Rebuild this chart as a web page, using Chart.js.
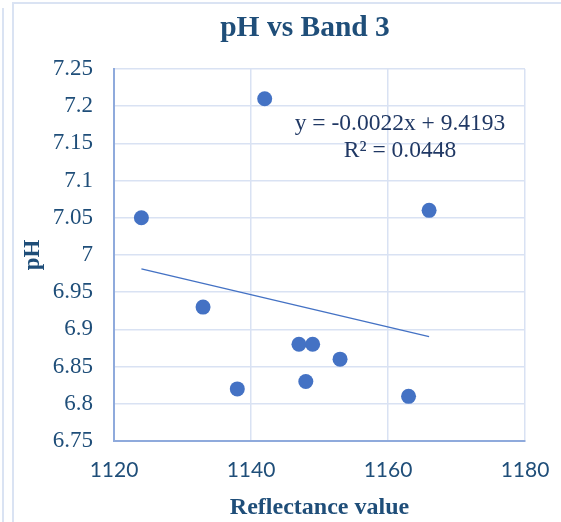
<!DOCTYPE html>
<html><head><meta charset="utf-8">
<script src="https://cdn.jsdelivr.net/npm/chart.js@4/dist/chart.umd.min.js"></script>
<style>
html,body{margin:0;padding:0;background:#fff;}
#wrap{position:relative;width:561px;height:522px;overflow:hidden;background:#fff;}
.fl{position:absolute;background:#dae3f3;}
canvas{position:absolute;left:0;top:0;}
</style></head><body>
<div id="wrap">
<div class="fl" style="left:2px;top:8px;width:2px;height:514px"></div>
<div class="fl" style="left:12px;top:2px;width:2px;height:520px"></div>
<div class="fl" style="left:12px;top:2px;width:549px;height:2px"></div>
<canvas id="c" width="561" height="522"></canvas>
</div>
<script>
const chartTitle = 'pH vs Band 3';
const xAxisTitle = 'Reflectance value';
const yAxisTitle = 'pH';
const reflectance = [1124, 1133, 1138, 1142, 1147, 1148, 1149, 1153, 1163, 1166];
const phValues    = [7.05, 6.93, 6.82, 7.21, 6.88, 6.83, 6.88, 6.86, 6.81, 7.06];
const xTickValues = [1120, 1140, 1160, 1180];
const yTickValues = [6.75, 6.8, 6.85, 6.9, 6.95, 7, 7.05, 7.1, 7.15, 7.2, 7.25];
const equationLines = ['y = -0.0022x + 9.4193', 'R\u00B2 = 0.0448'];

// least-squares trendline from the data
const n = reflectance.length;
const mx = reflectance.reduce((a,b)=>a+b,0)/n;
const my = phValues.reduce((a,b)=>a+b,0)/n;
let sxy=0, sxx=0;
for (let i=0;i<n;i++){ sxy += (reflectance[i]-mx)*(phValues[i]-my); sxx += (reflectance[i]-mx)**2; }
const slope = sxy/sxx, intercept = my - slope*mx;
const xMin = Math.min(...reflectance), xMax = Math.max(...reflectance);
const trend = [{x:xMin, y:intercept+slope*xMin},{x:xMax, y:intercept+slope*xMax}];

const TXT = '#1f4e79';
const SERIF = '"Liberation Serif", "Times New Roman", serif';

const overlay = {
  id:'overlay',
  afterDraw(chart){
    const ctx = chart.ctx;
    ctx.save();
    ctx.fillStyle = TXT;
    ctx.textAlign = 'center';
    ctx.textBaseline = 'middle';
    ctx.font = 'bold 29.5px ' + SERIF;
    ctx.fillText(chartTitle, 305, 28);
    ctx.font = '23.5px ' + SERIF;
    ctx.fillStyle = '#203864';
    ctx.fillText(equationLines[0], 400, 124);
    ctx.fillText(equationLines[1], 400, 151);
    ctx.restore();
  }
};

new Chart(document.getElementById('c'), {
  data: {
    datasets: [
      { type:'line', data: trend, borderColor:'#4472c4', borderWidth:1.5, pointRadius:0, fill:false, order:2 },
      { type:'scatter', data: reflectance.map((x,i)=>({x, y:phValues[i]})), backgroundColor:'#4472c4', borderColor:'#4472c4', borderWidth:0, pointRadius:7.5, pointHoverRadius:7.5, order:1 }
    ]
  },
  plugins:[overlay],
  options: {
    responsive:false, animation:false, devicePixelRatio:1,
    layout:{ padding:{ left:13, top:69, right:36, bottom:0 } },
    plugins:{ legend:{display:false}, tooltip:{enabled:false}, title:{display:false} },
    scales:{
      x:{ type:'linear', min:1120, max:1180,
        afterBuildTicks: s => { s.ticks = xTickValues.map(v=>({value:v})); },
        afterFit: s => { s.height = 81; s.paddingLeft = 0; s.paddingRight = 0; },
        ticks:{ color:TXT, font:{family:'Lato, "Liberation Sans", sans-serif', size:21}, padding:17, callback: v => String(v) },
        grid:{ color:'#d9e2f3', lineWidth:1.5, drawTicks:false },
        border:{ color:'#8faadc', width:2 },
        title:{ display:true, text:xAxisTitle, color:TXT, font:{family:SERIF, size:24, weight:'bold'}, padding:{top:0,bottom:0} }
      },
      y:{ type:'linear', min:6.75, max:7.25,
        afterBuildTicks: s => { s.ticks = yTickValues.map(v=>({value:v})); },
        afterFit: s => { s.width = 101; },
        ticks:{ color:TXT, font:{family:SERIF, size:23}, padding:21, callback: v => String(parseFloat(Number(v).toFixed(2))) },
        grid:{ color:'#d9e2f3', lineWidth:1.5, drawTicks:false },
        border:{ color:'#8faadc', width:2 },
        title:{ display:true, text:yAxisTitle, color:TXT, font:{family:SERIF, size:23, weight:'bold'}, padding:{top:6,bottom:0} }
      }
    }
  }
});
</script>
</body></html>
